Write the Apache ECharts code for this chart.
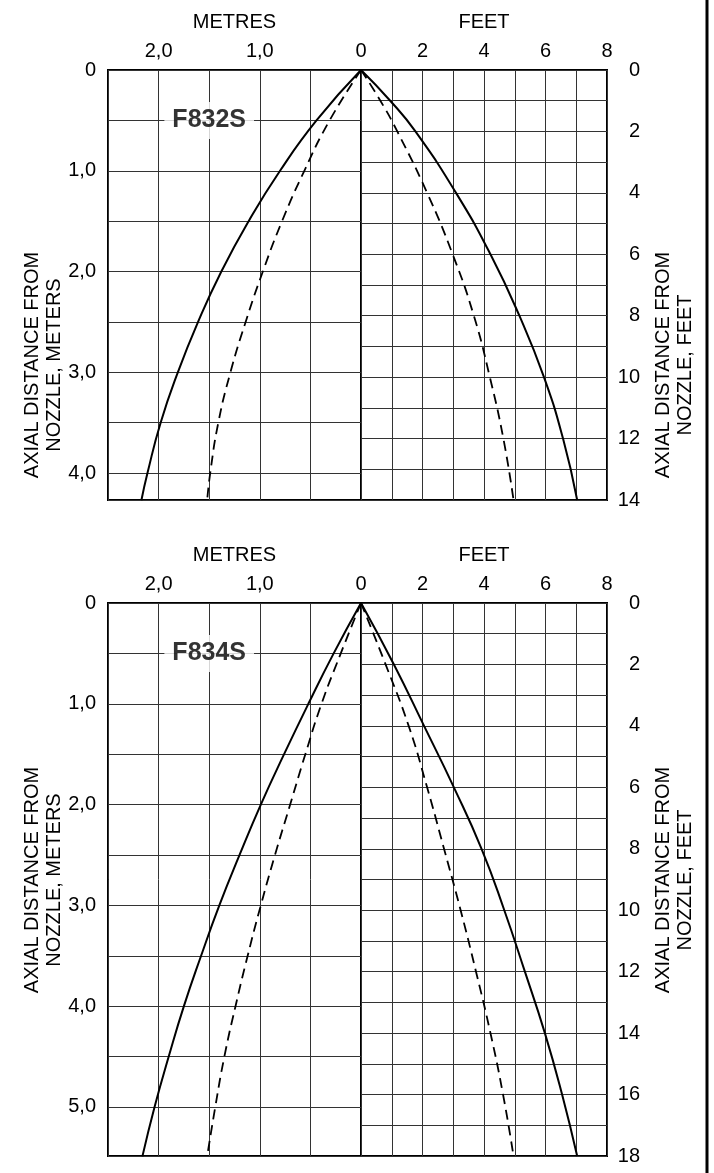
<!DOCTYPE html>
<html><head><meta charset="utf-8">
<script src="https://cdn.jsdelivr.net/npm/echarts@6/dist/echarts.min.js"></script>
<style>html,body{margin:0;padding:0;background:#fff}#c{width:714px;height:1173px}</style>
</head><body><div id="c"></div>
<script>
// ---- F832S (upper panel) ----
// metres half (left): axial distance (m) and spread (m)
const f832AxialM  = [0, 0.5, 1.0, 1.5, 2.0, 2.5, 3.0, 3.5, 4.0, 4.27];
const f832SolidM  = [0, 0.44, 0.80, 1.11, 1.38, 1.61, 1.81, 1.98, 2.11, 2.17];
const f832DashM   = [0, 0.31, 0.56, 0.78, 0.97, 1.14, 1.29, 1.41, 1.49, 1.52];
// feet half (right): axial distance (ft) and spread (ft)
const f832AxialFt = [0, 1, 2, 4, 6, 8, 10, 12, 14];
const f832SolidFt = [0, 0.95, 1.77, 3.09, 4.21, 5.15, 5.95, 6.57, 7.03];
const f832DashFt  = [0, 0.63, 1.18, 2.15, 2.98, 3.67, 4.19, 4.63, 4.96];

// ---- F834S (lower panel) ----
const f834AxialM  = [0, 0.5, 1.0, 1.5, 2.0, 2.5, 3.0, 3.5, 4.0, 4.5, 5.0, 5.49];
const f834SolidM  = [0, 0.27, 0.52, 0.76, 0.99, 1.20, 1.40, 1.58, 1.75, 1.90, 2.04, 2.16];
const f834DashM   = [0, 0.20, 0.39, 0.55, 0.70, 0.85, 0.99, 1.12, 1.24, 1.35, 1.44, 1.52];
const f834AxialFt = [0, 2, 4, 6, 8, 10, 12, 14, 16, 18];
const f834SolidFt = [0, 1.07, 2.05, 3.02, 3.92, 4.66, 5.33, 5.98, 6.54, 7.03];
const f834DashFt  = [0, 0.80, 1.55, 2.15, 2.70, 3.24, 3.74, 4.21, 4.62, 4.96];

// ---- axes / ticks / labels ----
const panelNames   = ['F832S', 'F834S'];
const panelDepthFt = [14, 18];
const spreadMaxM   = 2.5;
const spreadMaxFt  = 8;
const metreTickVals = [0, 1, 2, 3, 4, 5];
const metreTickText = ['0', '1,0', '2,0', '3,0', '4,0', '5,0'];
const feetTopVals   = [2, 4, 6, 8];
const feetTopText   = ['2', '4', '6', '8'];
const feetSideVals  = [0, 2, 4, 6, 8, 10, 12, 14, 16, 18];
const feetSideText  = ['0', '2', '4', '6', '8', '10', '12', '14', '16', '18'];
const labelPosM     = [1.5, 0.5];   // panel tag, in metres (spread, axial)
const FT = 0.3048;

const FONT = '"Liberation Sans", Arial, Helvetica, sans-serif';
function lookup(vals, text) {
  return function (v) {
    const i = vals.findIndex(t => Math.abs(t - v) < 1e-6);
    return i >= 0 ? text[i] : '';
  };
}
const pairs = (xs, ys) => ys.map((y, i) => [xs[i], y]);

const panelTop = [70, 603];
const pxPerFt = 30.71;
const leftX = 108, midX = 361, rightX = 607;

const grids = [], xAxes = [], yAxes = [], series = [], graphics = [];
const splitStyle = { show: true, lineStyle: { color: '#333', width: 1 } };
const labelBase = { color: '#000', fontSize: 20, fontFamily: FONT };

const panelData = [
  { sM: f832SolidM, dM: f832DashM, aM: f832AxialM, sF: f832SolidFt, dF: f832DashFt, aF: f832AxialFt },
  { sM: f834SolidM, dM: f834DashM, aM: f834AxialM, sF: f834SolidFt, dF: f834DashFt, aF: f834AxialFt }
];

for (let p = 0; p < 2; p++) {
  const top = panelTop[p];
  const h = Math.round(panelDepthFt[p] * pxPerFt);
  const g0 = grids.length;
  grids.push({ left: leftX, top: top, width: midX - leftX, height: h, show: true, borderColor: '#000', borderWidth: 2, containLabel: false, outerBoundsMode: 'none' });
  grids.push({ left: midX, top: top, width: rightX - midX, height: h, show: true, borderColor: '#000', borderWidth: 2, containLabel: false, outerBoundsMode: 'none' });

  // metres half
  xAxes.push({
    gridIndex: g0, type: 'value', position: 'top', inverse: true, min: 0, max: spreadMaxM, interval: 0.5,
    name: 'METRES', nameLocation: 'middle', nameGap: 38, nameMoveOverlap: false,
    nameTextStyle: { color: '#000', fontSize: 20, fontFamily: FONT },
    axisLine: { show: false }, axisTick: { show: false },
    axisLabel: Object.assign({ margin: 9, showMinLabel: true, showMaxLabel: true, formatter: lookup(metreTickVals, metreTickText) }, labelBase),
    splitLine: splitStyle
  });
  yAxes.push({
    gridIndex: g0, type: 'value', position: 'left', inverse: true, min: 0, max: panelDepthFt[p] * FT, interval: 0.5,
    axisLine: { show: false }, axisTick: { show: false },
    axisLabel: Object.assign({ margin: 12, showMinLabel: true, showMaxLabel: true, formatter: lookup(metreTickVals, metreTickText) }, labelBase),
    splitLine: splitStyle
  });
  // feet half
  xAxes.push({
    gridIndex: g0 + 1, type: 'value', position: 'top', min: 0, max: spreadMaxFt, interval: 1,
    name: 'FEET', nameLocation: 'middle', nameGap: 38, nameMoveOverlap: false,
    nameTextStyle: { color: '#000', fontSize: 20, fontFamily: FONT },
    axisLine: { show: false }, axisTick: { show: false },
    axisLabel: Object.assign({ margin: 9, showMinLabel: true, showMaxLabel: true, formatter: lookup(feetTopVals, feetTopText) }, labelBase),
    splitLine: splitStyle
  });
  yAxes.push({
    gridIndex: g0 + 1, type: 'value', position: 'right', inverse: true, min: 0, max: panelDepthFt[p], interval: 1,
    axisLine: { show: false }, axisTick: { show: false },
    axisLabel: Object.assign({ margin: 33, align: 'right', showMinLabel: true, showMaxLabel: true, formatter: lookup(feetSideVals, feetSideText) }, labelBase),
    splitLine: splitStyle
  });

  const d = panelData[p];
  const lineCommon = { type: 'line', symbol: 'none', smooth: 0.5, silent: true, z: 5 };
  series.push(Object.assign({}, lineCommon, { xAxisIndex: g0, yAxisIndex: g0, data: pairs(d.sM, d.aM), lineStyle: { color: '#000', width: 2 } }));
  series.push(Object.assign({}, lineCommon, { xAxisIndex: g0, yAxisIndex: g0, data: pairs(d.dM, d.aM), lineStyle: { color: '#000', width: 1.8, type: [10, 6] } }));
  series.push(Object.assign({}, lineCommon, { xAxisIndex: g0 + 1, yAxisIndex: g0 + 1, data: pairs(d.sF, d.aF), lineStyle: { color: '#000', width: 2 } }));
  series.push(Object.assign({}, lineCommon, { xAxisIndex: g0 + 1, yAxisIndex: g0 + 1, data: pairs(d.dF, d.aF), lineStyle: { color: '#000', width: 1.8, type: [10, 6] } }));
  // panel tag
  series.push({
    type: 'scatter', xAxisIndex: g0, yAxisIndex: g0, symbolSize: 1, itemStyle: { color: 'rgba(0,0,0,0)' }, z: 6, silent: true,
    data: [labelPosM],
    label: { show: true, position: 'inside', formatter: panelNames[p], color: '#000', fontSize: 25, fontWeight: 'bold', fontFamily: FONT, backgroundColor: '#fff', padding: [7, 8, 5, 8] }
  });

  // side axis names
  const nameY = top + 295 - (p === 1 ? 18 : 0);
  graphics.push({ type: 'text', x: 43, y: nameY, rotation: Math.PI / 2, z: 10,
    style: { text: 'AXIAL DISTANCE FROM\nNOZZLE, METERS', fill: '#000', font: '20px ' + FONT, align: 'center', verticalAlign: 'middle', lineHeight: 22 } });
  graphics.push({ type: 'text', x: 674, y: nameY, rotation: Math.PI / 2, z: 10,
    style: { text: 'AXIAL DISTANCE FROM\nNOZZLE, FEET', fill: '#000', font: '20px ' + FONT, align: 'center', verticalAlign: 'middle', lineHeight: 22 } });
}
graphics.push({ type: 'line', z: 10, shape: { x1: 707, y1: 0, x2: 707, y2: 1173 }, style: { stroke: '#000', lineWidth: 3 } });

const chart = echarts.init(document.getElementById('c'), null, { renderer: 'canvas' });
chart.setOption({
  animation: false,
  backgroundColor: '#fff',
  grid: grids,
  xAxis: xAxes,
  yAxis: yAxes,
  series: series,
  graphic: graphics
});
</script>
</body></html>
